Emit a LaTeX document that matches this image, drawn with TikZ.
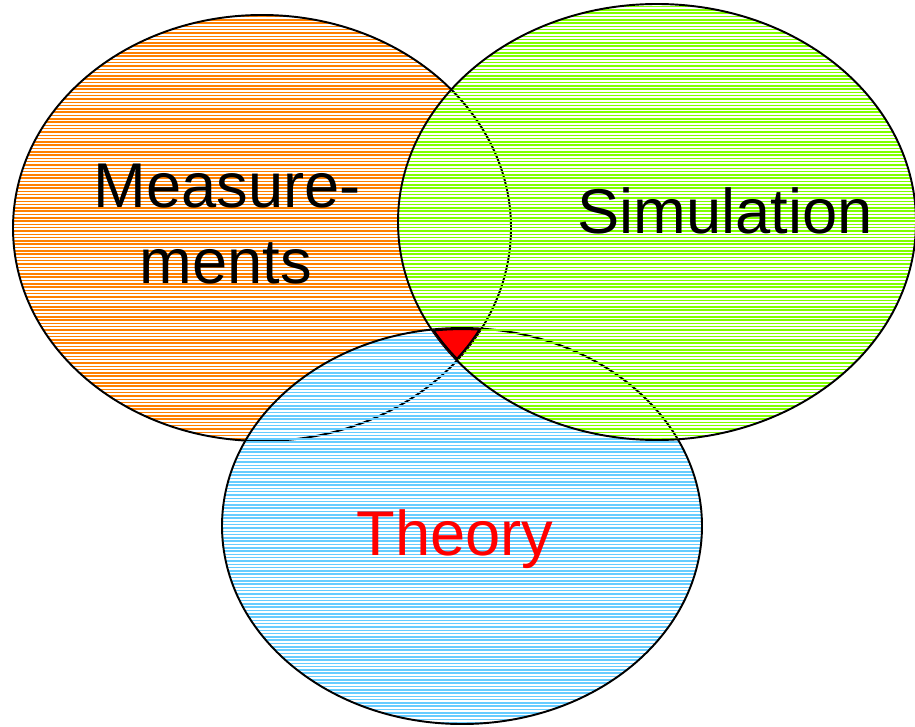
\documentclass[tikz,border=0pt]{standalone}
\usepackage{fontspec}
\setmainfont{Liberation Sans}
\definecolor{horange}{HTML}{FF8000}
\definecolor{hgreen}{HTML}{80FF00}
\definecolor{hblue}{HTML}{66CCFF}
\tikzset{
  hatchline/.style={line width=0.9pt},
  outline/.style={draw=black, line width=1.1pt},
  lbl/.style={font=\fontsize{36}{42}\selectfont, inner sep=0pt, anchor=base},
}
\newcommand\ellO{(262,228) ellipse [x radius=249, y radius=213]}
\newcommand\ellG{(657,222) ellipse [x radius=259, y radius=218]}
\newcommand\ellB{(462,526) ellipse [x radius=240, y radius=198]}
\begin{document}
\begin{tikzpicture}[x=0.02cm, y=-0.02cm]
\useasboundingbox (0,0) rectangle (915,726);
% Measurements (orange)
\begin{scope}
  \clip \ellO;
  \foreach \i in {0,...,221} \draw[hatchline, horange] (0,\i*3.3) -- (915,\i*3.3);
\end{scope}
\draw[outline] \ellO;
% Theory (blue)
\begin{scope}
  \clip \ellB;
  \foreach \i in {0,...,221} \draw[hatchline, hblue] (0,\i*3.3) -- (915,\i*3.3);
\end{scope}
\draw[outline] \ellB;
% Simulation (green)
\begin{scope}
  \clip \ellG;
  \foreach \i in {0,...,221} \draw[hatchline, hgreen] (0,\i*3.3) -- (915,\i*3.3);
\end{scope}
\draw[outline] \ellG;
% triple intersection
\begin{scope}
  \clip \ellO;
  \clip \ellG;
  \clip \ellB;
  \fill[red] (0,0) rectangle (915,726);
  \draw[draw=black, line width=2.4pt] \ellO;
  \draw[draw=black, line width=2.4pt] \ellG;
  \draw[draw=black, line width=2.4pt] \ellB;
\end{scope}
% labels
\node[lbl] (meas1) at (227,207) {Measure-};
\node[lbl] (meas2) at (226,283) {ments};
\node[lbl] (sim) at (725,233) {Simulation};
\node[lbl, text=red] (theo) at (455,555) {Theory};
\end{tikzpicture}
\end{document}
